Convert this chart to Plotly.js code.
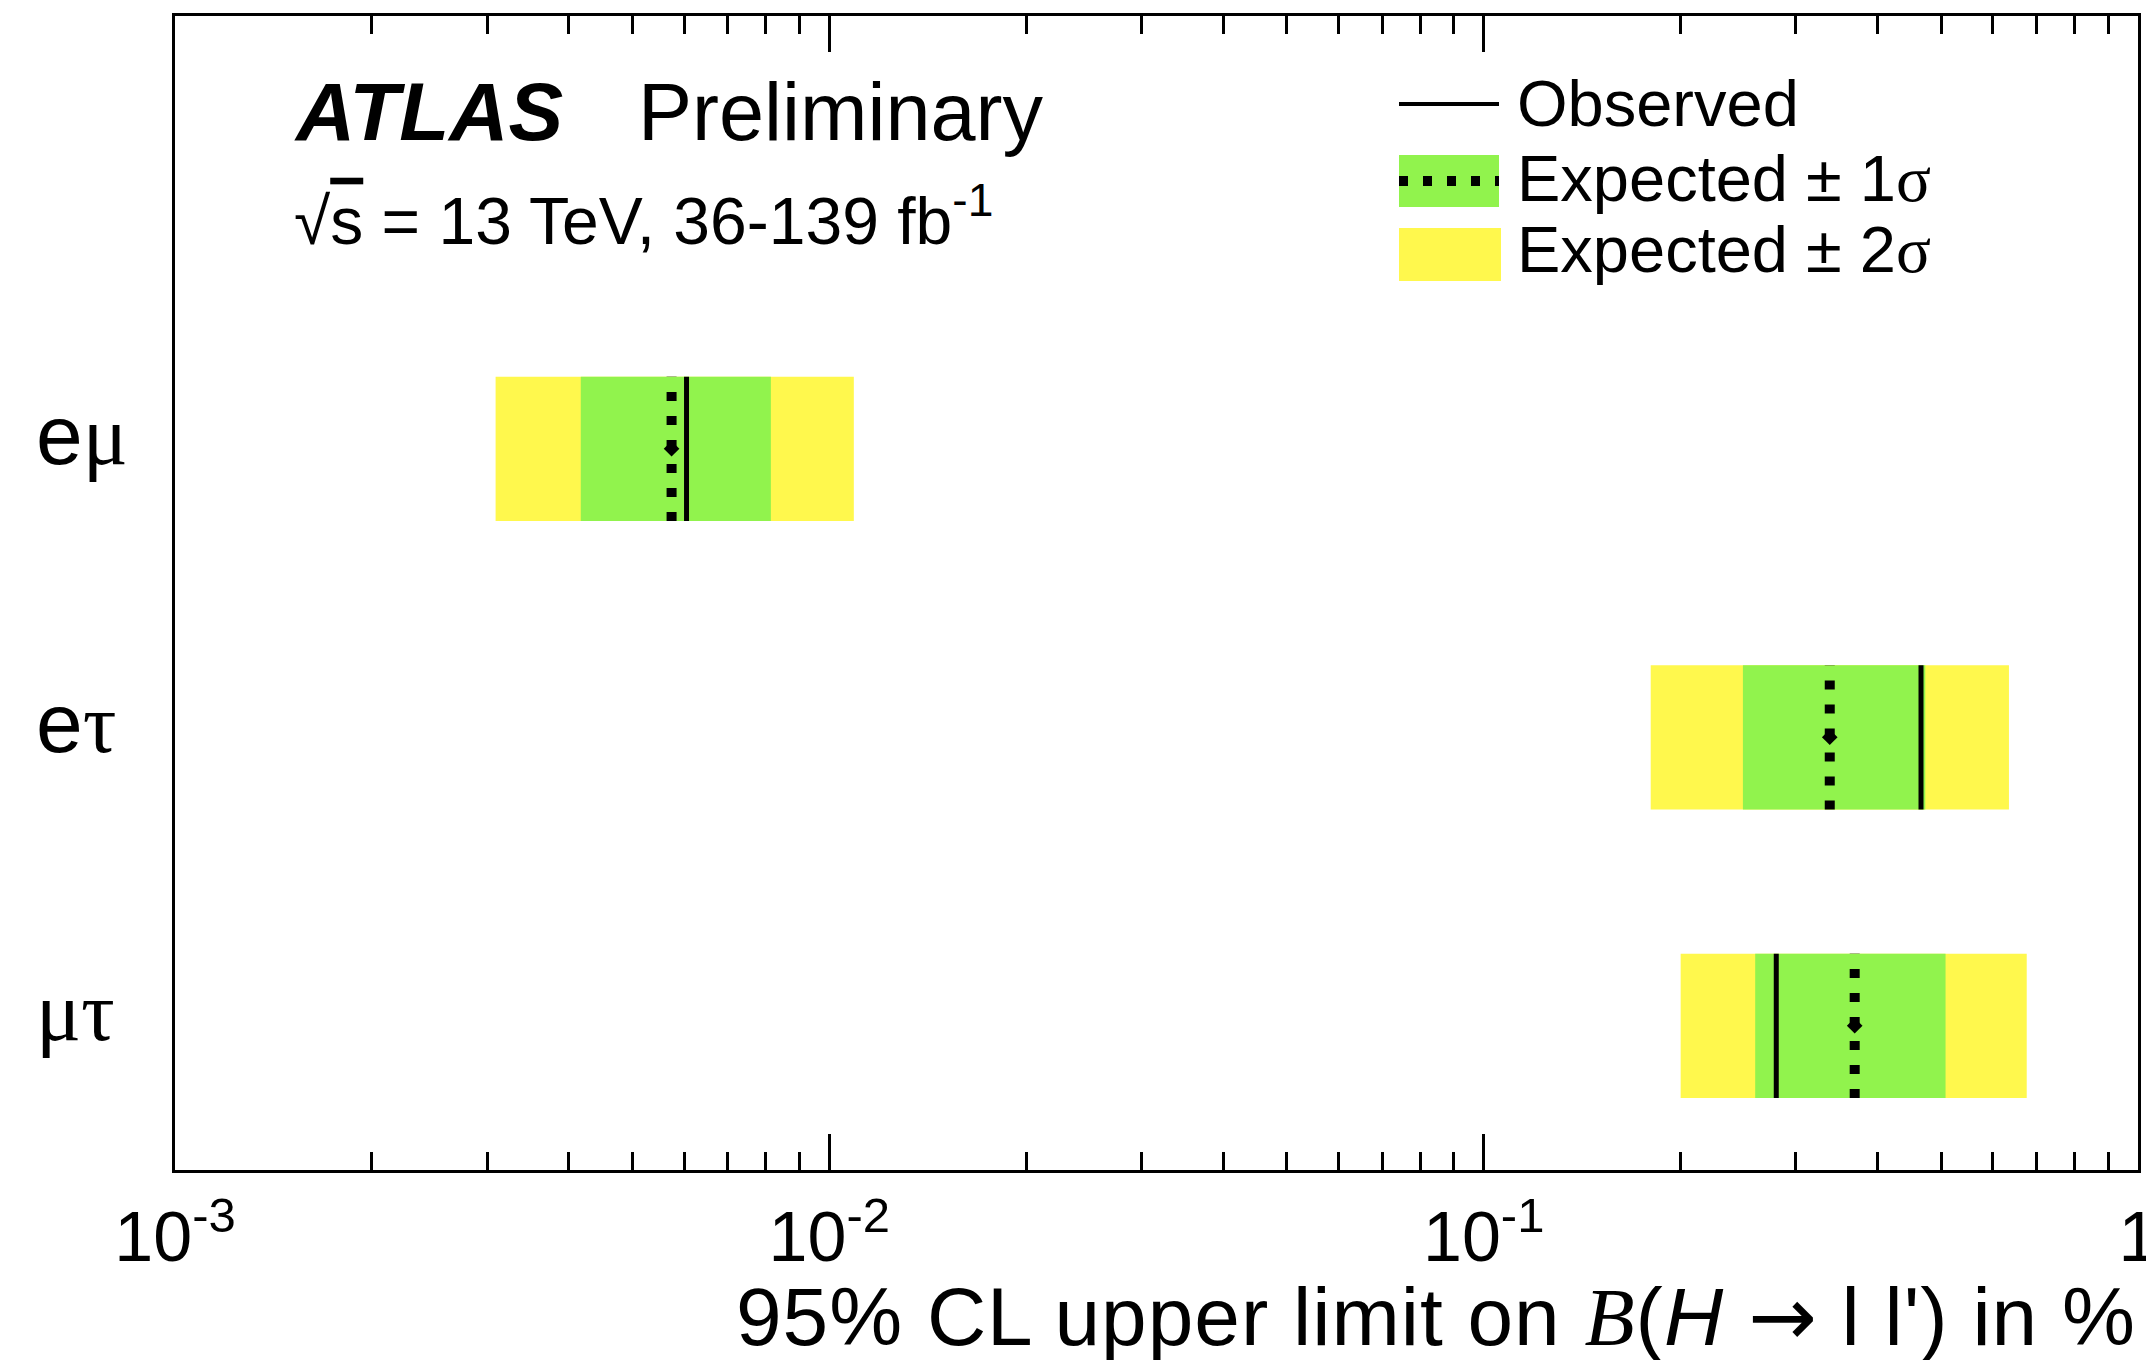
<!DOCTYPE html>
<html><head><meta charset="utf-8">
<script src="https://cdn.plot.ly/plotly-3.0.1.min.js"></script>
<style>html,body{margin:0;padding:0;background:#fff}</style>
</head><body><div id="chart" style="width:2146px;height:1360px"></div>
<script>
// ---- data (values in %) ----
const channels = ["eμ", "eτ", "μτ"];
const channelLabels = ['e<span style="font-family:Liberation Serif">μ</span>',
                       'e<span style="font-family:Liberation Serif">τ</span>',
                       '<span style="font-family:Liberation Serif">μτ</span>'];
const observed = [0.00605, 0.466, 0.280];
const expected = [0.00574, 0.338, 0.369];
const minus2sigma = [0.00309, 0.180, 0.200];
const minus1sigma = [0.00417, 0.249, 0.260];
const plus1sigma = [0.00814, 0.473, 0.508];
const plus2sigma = [0.0109, 0.635, 0.676];
const xTickVals = [0.001, 0.01, 0.1, 1];
const xTickText = ["10<sup>-3</sup>", "10<sup>-2</sup>", "10<sup>-1</sup>", "1"];

// ---- styling ----
const GREEN = "rgb(145,243,77)";
const YELLOW = "rgb(255,248,77)";
const HALF = 0.25;
const FONT = "Liberation Sans, Arial, Helvetica, sans-serif";
const n = channels.length;
const ypos = channels.map((c, i) => n - 1 - i);

function bandTrace(lo, hi, color) {
  const xs = [], ys = [];
  for (let i = 0; i < n; i++) {
    const c = ypos[i];
    xs.push(lo[i], hi[i], hi[i], lo[i], lo[i], null);
    ys.push(c - HALF, c - HALF, c + HALF, c + HALF, c - HALF, null);
  }
  return {x: xs, y: ys, type: "scatter", mode: "lines", fill: "toself",
          fillcolor: color, line: {width: 0, color: color}, hoverinfo: "skip", showlegend: false};
}
function vlineTrace(vals, dash, width) {
  const xs = [], ys = [];
  for (let i = 0; i < n; i++) {
    const c = ypos[i];
    xs.push(vals[i], vals[i], null);
    ys.push(c - HALF, c + HALF, null);
  }
  return {x: xs, y: ys, type: "scatter", mode: "lines",
          line: {color: "black", width: width, dash: dash}, showlegend: false, hoverinfo: "skip"};
}

const minorVals = [];
for (let d = -3; d < 0; d++) for (let k = 2; k <= 9; k++) minorVals.push(k * Math.pow(10, d));

const traces = [
  bandTrace(minus2sigma, plus2sigma, YELLOW),
  bandTrace(minus1sigma, plus1sigma, GREEN),
  vlineTrace(expected, "9px,15px", 10),
  {x: expected, y: ypos, type: "scatter", mode: "markers",
   marker: {symbol: "diamond", size: 12, color: "black"}, showlegend: false, hoverinfo: "skip"},
  vlineTrace(observed, "solid", 5)
];

// pixel -> paper helpers for decorations
const L = 175, T = 16, W = 1963, H = 1154;
const px = x => (x - L) / W;
const py = y => (T + H - y) / H;

function ann(text, x, y, size, extra) {
  return Object.assign({text: text, x: px(x), y: py(y), xref: "paper", yref: "paper",
    xanchor: "left", yanchor: "middle", showarrow: false,
    font: {family: FONT, size: size, color: "black"}}, extra || {});
}

const annotations = [
  ann("<b><i>ATLAS</i></b>", 292, 112, 82),
  ann("Preliminary", 636, 112, 81),
  ann('√<span style="text-decoration:overline">s</span> = 13 TeV, 36-139 fb<sup>-1</sup>', 292, 216, 66),
  ann("Observed", 1515, 103, 65),
  ann('Expected ± 1<span style="font-family:Liberation Serif">σ</span>', 1515, 178, 65),
  ann('Expected ± 2<span style="font-family:Liberation Serif">σ</span>', 1515, 250, 65),
  ann('<span style="letter-spacing:1px">95% CL upper limit on <span style="font-family:Liberation Serif"><i>B</i></span>(<i>H</i> <span style="font-family:DejaVu Sans">→</span> l l\') in %</span>',
      2138, 1316, 82, {xanchor: "right"})
];
// category labels, left-aligned at the left margin, one per channel row
channelLabels.forEach((lab, i) => {
  annotations.push({text: lab, x: px(34), y: ypos[i], xref: "paper", yref: "y",
    xanchor: "left", yanchor: "middle", yshift: 14, showarrow: false,
    font: {family: FONT, size: 84, color: "black"}});
});

const shapes = [
  {type: "line", xref: "paper", yref: "paper", x0: px(1399), x1: px(1499), y0: py(104), y1: py(104),
   line: {color: "black", width: 4}},
  {type: "rect", xref: "paper", yref: "paper", x0: px(1399), x1: px(1499), y0: py(207), y1: py(155),
   fillcolor: GREEN, line: {width: 0}},
  {type: "line", xref: "paper", yref: "paper", x0: px(1399), x1: px(1499), y0: py(181), y1: py(181),
   line: {color: "black", width: 10, dash: "9px,15px"}},
  {type: "rect", xref: "paper", yref: "paper", x0: px(1399), x1: px(1501), y0: py(281), y1: py(228),
   fillcolor: YELLOW, line: {width: 0}}
];

const layout = {
  width: 2146, height: 1360,
  margin: {l: L, r: 2146 - L - W, t: T, b: 1360 - T - H, pad: 0},
  paper_bgcolor: "white", plot_bgcolor: "white",
  showlegend: false,
  font: {family: FONT, color: "black"},
  xaxis: {
    type: "log", range: [-3, 0],
    showline: true, linecolor: "black", linewidth: 3, mirror: "allticks",
    ticks: "inside", ticklen: 36, tickwidth: 3, tickcolor: "black",
    tickmode: "array", tickvals: xTickVals, ticktext: xTickText,
    tickfont: {family: FONT, size: 70, color: "black"},
    ticklabelstandoff: 4, ticklabeloverflow: "allow",
    minor: {ticks: "inside", ticklen: 18, tickwidth: 3, tickcolor: "black",
            tickmode: "array", tickvals: minorVals, showgrid: false},
    showgrid: false, zeroline: false
  },
  yaxis: {
    range: [-0.5, 3.5],
    showline: true, linecolor: "black", linewidth: 3, mirror: true,
    ticks: "", tickmode: "array", tickvals: ypos, showticklabels: false,
    showgrid: false, zeroline: false
  },
  annotations: annotations,
  shapes: shapes
};

Plotly.newPlot("chart", traces, layout, {staticPlot: true, displayModeBar: false});
</script>
</body></html>
